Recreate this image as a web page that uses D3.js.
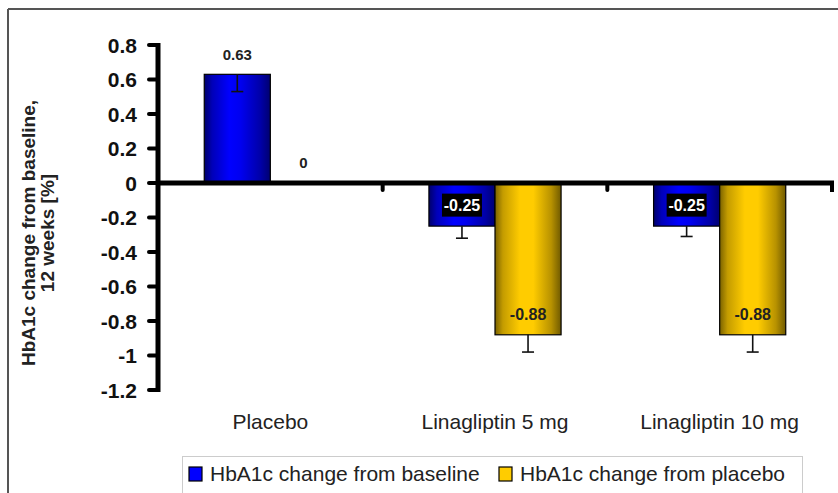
<!DOCTYPE html>
<html>
<head>
<meta charset="utf-8">
<script src="https://cdn.jsdelivr.net/npm/d3@7"></script>
<style>
  html, body { margin: 0; padding: 0; background: #fff; }
  svg { display: block; }
  text { font-family: Arial, "Liberation Sans", sans-serif; }
</style>
</head>
<body>
<svg id="chart" width="838" height="493"></svg>
<script>
// Treatment groups and results (HbA1c change, %)
const categories = ["Placebo", "Linagliptin 5 mg", "Linagliptin 10 mg"];
const seriesNames = ["HbA1c change from baseline", "HbA1c change from placebo"];
const fromBaseline = [0.63, -0.25, -0.25];
const fromPlacebo = [0, -0.88, -0.88];
// lower error bar length for each value
const errBaseline = [0.10, 0.07, 0.06];
const errPlacebo = [0, 0.10, 0.10];
const yTicks = [0.8, 0.6, 0.4, 0.2, 0, -0.2, -0.4, -0.6, -0.8, -1, -1.2];

const svg = d3.select("#chart");
const W = 838, H = 493;
const fmt = d => String(d);

// outer frame (top and left edges visible)
svg.append("line").attr("x1", 8).attr("x2", W).attr("y1", 9).attr("y2", 9)
  .attr("stroke", "#555").attr("stroke-width", 2);
svg.append("line").attr("x1", 8).attr("x2", 8).attr("y1", 9).attr("y2", H)
  .attr("stroke", "#555").attr("stroke-width", 2);

const plot = { left: 158, right: 832, top: 45, bottom: 390 };

const y = d3.scaleLinear().domain([-1.2, 0.8]).range([plot.bottom, plot.top]);
const x0 = d3.scaleBand().domain(categories).range([plot.left, plot.right]).padding(0);
const x1 = d3.scaleBand().domain(seriesNames).range([0, x0.bandwidth()])
  .paddingInner(0).paddingOuter(0.7);

// gradients for the bars
const defs = svg.append("defs");
function grad(id, stops) {
  const g = defs.append("linearGradient").attr("id", id)
    .attr("x1", "0%").attr("x2", "100%").attr("y1", "0%").attr("y2", "0%");
  stops.forEach(s => g.append("stop").attr("offset", s[0]).attr("stop-color", s[1]));
}
grad("gBlue", [["0%", "#00006a"], ["12%", "#0000b8"], ["38%", "#0000ff"], ["55%", "#0000f0"], ["85%", "#0000a8"], ["100%", "#000070"]]);
grad("gGold", [["0%", "#7a6200"], ["12%", "#c49c00"], ["38%", "#ffcc00"], ["58%", "#ffcc00"], ["85%", "#b89200"], ["100%", "#705a00"]]);

const rows = categories.map((c, i) => ({
  cat: c,
  vals: [
    { s: seriesNames[0], v: fromBaseline[i], e: errBaseline[i], fill: "url(#gBlue)" },
    { s: seriesNames[1], v: fromPlacebo[i], e: errPlacebo[i], fill: "url(#gGold)" }
  ]
}));

const groups = svg.append("g").selectAll("g").data(rows).join("g")
  .attr("transform", d => `translate(${x0(d.cat)},0)`);

// bars
groups.selectAll("rect.bar").data(d => d.vals.filter(v => v.v !== 0)).join("rect")
  .attr("class", "bar")
  .attr("x", d => x1(d.s))
  .attr("width", x1.bandwidth())
  .attr("y", d => y(Math.max(0, d.v)))
  .attr("height", d => Math.abs(y(d.v) - y(0)))
  .attr("fill", d => d.fill)
  .attr("stroke", "#000").attr("stroke-width", 1.2);

// error bars (lower direction)
const eb = groups.selectAll("g.err").data(d => d.vals.filter(v => v.e > 0)).join("g").attr("class", "err");
eb.append("line")
  .attr("x1", d => x1(d.s) + x1.bandwidth() / 2).attr("x2", d => x1(d.s) + x1.bandwidth() / 2)
  .attr("y1", d => y(d.v)).attr("y2", d => y(d.v - d.e))
  .attr("stroke", "#111").attr("stroke-width", 1.6);
eb.append("line")
  .attr("x1", d => x1(d.s) + x1.bandwidth() / 2 - 6).attr("x2", d => x1(d.s) + x1.bandwidth() / 2 + 6)
  .attr("y1", d => y(d.v - d.e)).attr("y2", d => y(d.v - d.e))
  .attr("stroke", "#111").attr("stroke-width", 1.6);

// value labels: above the end for non-negative, inside the end for negative
const lab = groups.selectAll("g.lab").data(d => d.vals).join("g").attr("class", "lab")
  .attr("transform", d => {
    const cx = x1(d.s) + x1.bandwidth() / 2;
    const cy = y(d.v) + (d.v >= 0 ? -20 : -21);
    return `translate(${cx},${cy})`;
  });
lab.filter(d => d.v < 0 && d.s === seriesNames[0]).append("rect")
  .attr("x", -20).attr("y", -11.5).attr("width", 40).attr("height", 23).attr("fill", "#000");
lab.append("text")
  .attr("text-anchor", "middle").attr("dy", "0.36em")
  .attr("font-size", d => d.v < 0 ? 16 : 15).attr("font-weight", "bold")
  .attr("fill", d => (d.v < 0 && d.s === seriesNames[0]) ? "#fff" : "#222")
  .text(d => fmt(d.v));

// y axis
const yAxis = svg.append("g");
yAxis.append("line").attr("x1", plot.left).attr("x2", plot.left)
  .attr("y1", plot.top - 2).attr("y2", plot.bottom + 2)
  .attr("stroke", "#000").attr("stroke-width", 5);
yAxis.selectAll("line.tick").data(yTicks).join("line").attr("class", "tick")
  .attr("x1", plot.left - 9).attr("x2", plot.left)
  .attr("y1", d => y(d)).attr("y2", d => y(d))
  .attr("stroke", "#000").attr("stroke-width", 4).attr("stroke-linecap", "round");
yAxis.selectAll("text").data(yTicks).join("text")
  .attr("x", 137).attr("y", d => y(d)).attr("dy", "0.36em")
  .attr("text-anchor", "end").attr("font-size", 21).attr("font-weight", "bold").attr("fill", "#111")
  .text(d => fmt(d));

// x axis along zero
const xAxis = svg.append("g");
xAxis.append("line").attr("x1", plot.left).attr("x2", plot.right + 2)
  .attr("y1", y(0)).attr("y2", y(0)).attr("stroke", "#000").attr("stroke-width", 5);
const bounds = categories.map(c => x0(c) + x0.bandwidth()).slice(0, -1);
xAxis.selectAll("line.ctick").data(bounds).join("line").attr("class", "ctick")
  .attr("x1", d => d).attr("x2", d => d).attr("y1", y(0)).attr("y2", y(0) + 7)
  .attr("stroke", "#000").attr("stroke-width", 4).attr("stroke-linecap", "round");
xAxis.append("line").attr("x1", plot.right).attr("x2", plot.right)
  .attr("y1", y(0)).attr("y2", y(0) + 9).attr("stroke", "#000").attr("stroke-width", 4);

// category labels
svg.append("g").selectAll("text").data(categories).join("text")
  .attr("x", d => x0(d) + x0.bandwidth() / 2).attr("y", 429)
  .attr("text-anchor", "middle").attr("font-size", 21).attr("fill", "#222")
  .text(d => d);

// y axis title
const yt = svg.append("text").attr("transform", "translate(0,233) rotate(-90)")
  .attr("text-anchor", "middle").attr("font-size", 19).attr("font-weight", "bold").attr("fill", "#222");
yt.append("tspan").attr("x", 0).attr("y", 35).text("HbA1c change from baseline,");
yt.append("tspan").attr("x", 0).attr("y", 54).text("12 weeks [%]");

// legend
const leg = svg.append("g");
leg.append("rect").attr("x", 182.5).attr("y", 456.5).attr("width", 620).attr("height", 42)
  .attr("fill", "#fff").attr("stroke", "#ccc").attr("stroke-width", 1);
const legItems = [
  { name: seriesNames[0], color: "#0000ff", sx: 189 },
  { name: seriesNames[1], color: "#ffcc00", sx: 499 }
];
const li = leg.selectAll("g").data(legItems).join("g");
li.append("rect").attr("x", d => d.sx).attr("y", 467).attr("width", 13).attr("height", 14)
  .attr("fill", d => d.color).attr("stroke", "#000").attr("stroke-width", 1.2);
li.append("text").attr("x", d => d.sx + 21).attr("y", 481)
  .attr("font-size", 21).attr("fill", "#222").text(d => d.name);
</script>
</body>
</html>
